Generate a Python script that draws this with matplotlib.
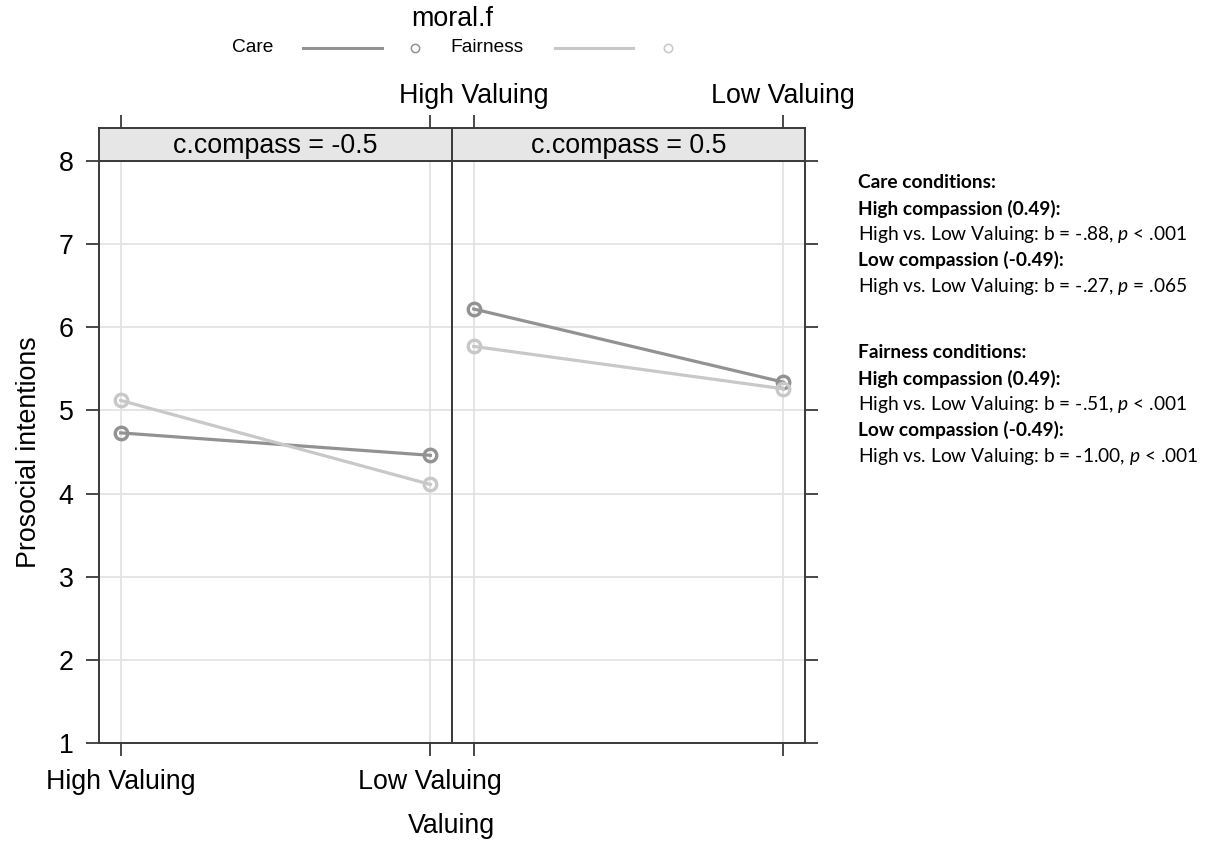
import matplotlib
matplotlib.use("Agg")
import matplotlib.pyplot as plt
from matplotlib.lines import Line2D

# data
valuing = ["High Valuing", "Low Valuing"]
compass_levels = ["-0.5", "0.5"]
care_low_compass = [4.73, 4.46]
fair_low_compass = [5.12, 4.11]
care_high_compass = [6.22, 5.34]
fair_high_compass = [5.77, 5.26]
y_ticks = [1, 2, 3, 4, 5, 6, 7, 8]

care_notes = [
    ("Care conditions:", "bold"),
    ("High compassion (0.49):", "bold"),
    ("High vs. Low Valuing: b = -.88, $p$ < .001", "normal"),
    ("Low compassion (-0.49):", "bold"),
    ("High vs. Low Valuing: b = -.27, $p$ = .065", "normal"),
]
fair_notes = [
    ("Fairness conditions:", "bold"),
    ("High compassion (0.49):", "bold"),
    ("High vs. Low Valuing: b = -.51, $p$ < .001", "normal"),
    ("Low compassion (-0.49):", "bold"),
    ("High vs. Low Valuing: b = -1.00, $p$ < .001", "normal"),
]

CARE_COL = "#929292"
FAIR_COL = "#c8c8c8"
FRAME = "#3a3a3a"
GRID = "#e3e3e3"
FS = 19.3

plt.rcParams["font.family"] = ["Liberation Sans", "DejaVu Sans"]
plt.rcParams["mathtext.fontset"] = "custom"
plt.rcParams["mathtext.rm"] = "Lato"
plt.rcParams["mathtext.it"] = "Lato:italic"

W, H = 1210, 844
fig = plt.figure(figsize=(W / 100, H / 100), dpi=100)


def fx(px):
    return px / W


def fy(py):
    return 1 - py / H


x = [1, 2]
panels = [
    (99, compass_levels[0], care_low_compass, fair_low_compass),
    (452, compass_levels[1], care_high_compass, fair_high_compass),
]

for i, (left, level, care, fair) in enumerate(panels):
    ax = fig.add_axes([fx(left), fy(743), 353 / W, 582 / H])
    strip = fig.add_axes([fx(left), fy(161), 353 / W, 33 / H])

    ax.set_xlim(0.93, 2.07)
    ax.set_ylim(1, 8)
    for v in y_ticks:
        ax.axhline(v, color=GRID, lw=1.3, zorder=0)
    for v in x:
        ax.axvline(v, color=GRID, lw=1.3, zorder=0)

    ax.plot(x, care, color=CARE_COL, lw=2.3, marker="o", ms=9,
            mfc="none", mec=CARE_COL, mew=2.4, zorder=3)
    ax.plot(x, fair, color=FAIR_COL, lw=2.3, marker="o", ms=9,
            mfc="none", mec=FAIR_COL, mew=2.4, zorder=4)

    for sp in ax.spines.values():
        sp.set_color(FRAME)
        sp.set_linewidth(1.4)
    ax.set_xticks(x)
    ax.set_yticks(y_ticks)
    ax.tick_params(length=9.4, width=1.3, color=FRAME, direction="out")
    if i == 0:
        ax.set_xticklabels(valuing, fontsize=FS)
        ax.tick_params(axis="x", pad=9)
        ax.tick_params(axis="y", labelsize=FS, pad=9)
        ax.set_ylabel("Prosocial intentions", fontsize=FS, labelpad=12)
    else:
        ax.tick_params(axis="x", labelbottom=False)
        ax.tick_params(axis="y", left=False, labelleft=False, right=True)

    # strip with top ticks
    strip.set_xlim(0.93, 2.07)
    strip.set_ylim(0, 1)
    strip.set_facecolor("#e6e6e6")
    for sp in strip.spines.values():
        sp.set_color(FRAME)
        sp.set_linewidth(1.4)
    strip.set_yticks([])
    strip.set_xticks(x)
    strip.tick_params(axis="x", bottom=False, labelbottom=False, top=True,
                      length=9.4, width=1.3, color=FRAME)
    if i == 1:
        strip.set_xticklabels(valuing, fontsize=FS)
        strip.tick_params(axis="x", labeltop=True, pad=4)
    else:
        strip.tick_params(axis="x", labeltop=False)
    strip.text(0.5, 0.45, f"c.compass = {level}", transform=strip.transAxes,
               ha="center", va="center", fontsize=FS)

fig.text(fx(451), fy(826), "Valuing", ha="center", va="center", fontsize=FS)

# key on top
fig.text(fx(452), fy(19), "moral.f", ha="center", va="center", fontsize=FS)
key = [("Care", CARE_COL, 232, 303, 382, 415), ("Fairness", FAIR_COL, 450, 555, 633, 668)]
for name, col, tx, l0, l1, mx in key:
    fig.text(fx(tx), fy(48), name, ha="left", va="center", fontsize=13.8)
    fig.add_artist(Line2D([fx(l0), fx(l1)], [fy(48), fy(48)], color=col, lw=2.2,
                          transform=fig.transFigure))
    fig.add_artist(Line2D([fx(mx)], [fy(48)], marker="o", ms=6, mfc="none",
                          mec=col, mew=1.1, transform=fig.transFigure))

# annotation block on the right
for y0, block in [(183, care_notes), (353, fair_notes)]:
    for k, (line, weight) in enumerate(block):
        fig.text(fx(858), fy(y0 + k * 25.8), line, ha="left", va="center",
                 fontsize=13.8, family="Lato", fontweight=weight)

fig.savefig("out.png", dpi=100)
